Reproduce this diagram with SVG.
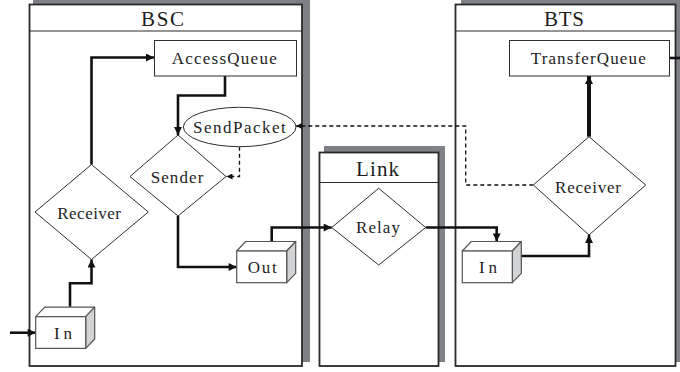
<svg xmlns="http://www.w3.org/2000/svg" xmlns:xlink="http://www.w3.org/1999/xlink" width="680" height="372" viewBox="0 0 680 372">
  <style>
    .shadow { fill: #7e8286; }
    .frame { fill: #ffffff; stroke: #2a2a2a; stroke-width: 1.8; }
    .divider { stroke: #2a2a2a; stroke-width: 1.2; fill: none; }
    .title { font-family: "Liberation Serif", "Times New Roman", serif; font-size: 21px; fill: #1e1e1e; text-anchor: start; }
    .label { font-family: "Liberation Serif", "Times New Roman", serif; font-size: 17px; fill: #1e1e1e; text-anchor: start; }
    .node { fill: #ffffff; stroke: #2e2e2e; stroke-width: 1; }
    .flow { fill: none; stroke: #111111; stroke-width: 2.6; stroke-linejoin: miter; }
    .flow-heavy { fill: none; stroke: #111111; stroke-width: 4; }
    .signal { fill: none; stroke: #111111; stroke-width: 1.3; stroke-dasharray: 4 3; }
    .box-front { fill: #ffffff; stroke: #555555; stroke-width: 1.2; }
    .box-top { fill: #ffffff; stroke: #555555; stroke-width: 1.2; stroke-linejoin: round; }
    .box-side { fill: #d2d3d5; stroke: #555555; stroke-width: 1.2; stroke-linejoin: round; }
  </style>
  <defs>
    <marker id="arrow" viewBox="0 0 10 10" refX="10" refY="5" markerWidth="9" markerHeight="8" markerUnits="userSpaceOnUse" orient="auto">
      <path d="M0,0 L10,5 L0,10 Z" fill="#111111"/>
    </marker>
    <marker id="arrow-small" viewBox="0 0 10 10" refX="10" refY="5" markerWidth="7" markerHeight="6" markerUnits="userSpaceOnUse" orient="auto">
      <path d="M0,0 L10,5 L0,10 Z" fill="#111111"/>
    </marker>
    <!-- 3D port box, front face origin at (0,0) -->
    <g id="port">
      <polygon class="box-top" points="0,0 9,-9.5 59,-9.5 50,0"/>
      <polygon class="box-side" points="50,0 59,-9.5 59,22.3 50,31.7"/>
      <rect class="box-front" x="0" y="0" width="50" height="31.7"/>
    </g>
  </defs>

  <!-- Containers -->
  <g id="bsc">
    <rect class="shadow" x="33" y="0" width="277" height="362"/>
    <rect class="frame" x="29.5" y="4.5" width="272.5" height="361.5"/>
    <line class="divider" x1="29.5" y1="31" x2="302" y2="31"/>
    <text class="title" x="141" y="25.5" textLength="43" lengthAdjust="spacing">BSC</text>
  </g>
  <g id="link">
    <rect class="shadow" x="324" y="146" width="121" height="216"/>
    <rect class="frame" x="319.5" y="152.5" width="119" height="213.5"/>
    <line class="divider" x1="319.5" y1="182.5" x2="438.5" y2="182.5"/>
    <text class="title" x="356" y="175.5" textLength="43" lengthAdjust="spacing">Link</text>
  </g>
  <g id="bts">
    <rect class="shadow" x="461" y="0" width="225" height="362"/>
    <rect class="frame" x="455.5" y="4.5" width="220" height="361.5"/>
    <line class="divider" x1="455.5" y1="31" x2="675.5" y2="31"/>
    <text class="title" x="544" y="25.5" textLength="40" lengthAdjust="spacing">BTS</text>
  </g>

  <!-- Connectors -->
  <g id="connectors">
    <path class="flow" d="M10,332.7 H35.7" marker-end="url(#arrow)"/>
    <path class="flow" d="M70,306.7 V283.3 H91.5 V259.5" marker-end="url(#arrow)"/>
    <path class="flow" d="M91.5,164.5 V57.5 H154" marker-end="url(#arrow)"/>
    <path class="flow" d="M225,76 V95.5 H178 V135" marker-end="url(#arrow)"/>
    <path class="flow" d="M178,216 V267 H236.7" marker-end="url(#arrow)"/>
    <path class="flow" d="M271.7,241.5 V227.5 H331.7" marker-end="url(#arrow)"/>
    <path class="flow" d="M425.7,227.5 H496.7 V241.5" marker-end="url(#arrow)"/>
    <path class="flow" d="M521,256 H589 V235" marker-end="url(#arrow)"/>
    <path class="flow-heavy" d="M589,136.7 V76" marker-end="url(#arrow)"/>
    <path class="flow" d="M669.3,58 H680"/>
    <path class="signal" d="M533.3,185 H465.7 V126 H296" marker-end="url(#arrow-small)"/>
    <path class="signal" d="M239.5,146.7 V176.5 H226.5" marker-end="url(#arrow-small)"/>
  </g>

  <!-- BSC nodes -->
  <g id="access-queue">
    <rect class="node" x="154.5" y="40.5" width="142" height="35.5"/>
    <text class="label" x="171.7" y="64" textLength="105" lengthAdjust="spacing">AccessQueue</text>
  </g>
  <g id="send-packet">
    <ellipse class="node" cx="239.7" cy="127" rx="56.3" ry="19.7"/>
    <text class="label" x="193" y="133" textLength="92.7" lengthAdjust="spacing">SendPacket</text>
  </g>
  <g id="sender">
    <polygon class="node" points="178,135 226,176.5 178,216 130,176.5"/>
    <text class="label" x="150.7" y="183" textLength="52.6" lengthAdjust="spacing">Sender</text>
  </g>
  <g id="bsc-receiver">
    <polygon class="node" points="91.5,164.5 148.3,212 91.5,259.5 35,212"/>
    <text class="label" x="57.3" y="219" textLength="63.7" lengthAdjust="spacing">Receiver</text>
  </g>
  <g id="bsc-in">
    <use xlink:href="#port" x="35.7" y="316.7"/>
    <text class="label" x="54" y="338.5" textLength="18" lengthAdjust="spacing">In</text>
  </g>
  <g id="bsc-out">
    <use xlink:href="#port" x="236.7" y="251"/>
    <text class="label" x="247.7" y="273.3" textLength="29" lengthAdjust="spacing">Out</text>
  </g>

  <!-- Link node -->
  <g id="relay">
    <polygon class="node" points="378.7,188.3 425.7,227.5 378.7,265 331.7,227.5"/>
    <text class="label" x="356" y="233.3" textLength="44" lengthAdjust="spacing">Relay</text>
  </g>

  <!-- BTS nodes -->
  <g id="transfer-queue">
    <rect class="node" x="509.5" y="40.5" width="160" height="35.5"/>
    <text class="label" x="530.7" y="64" textLength="115" lengthAdjust="spacing">TransferQueue</text>
  </g>
  <g id="bts-receiver">
    <polygon class="node" points="589,136.7 645.7,185 589,235 533.3,185"/>
    <text class="label" x="555" y="192.5" textLength="66" lengthAdjust="spacing">Receiver</text>
  </g>
  <g id="bts-in">
    <use xlink:href="#port" x="462.3" y="251"/>
    <text class="label" x="479" y="273.3" textLength="18" lengthAdjust="spacing">In</text>
  </g>
</svg>
